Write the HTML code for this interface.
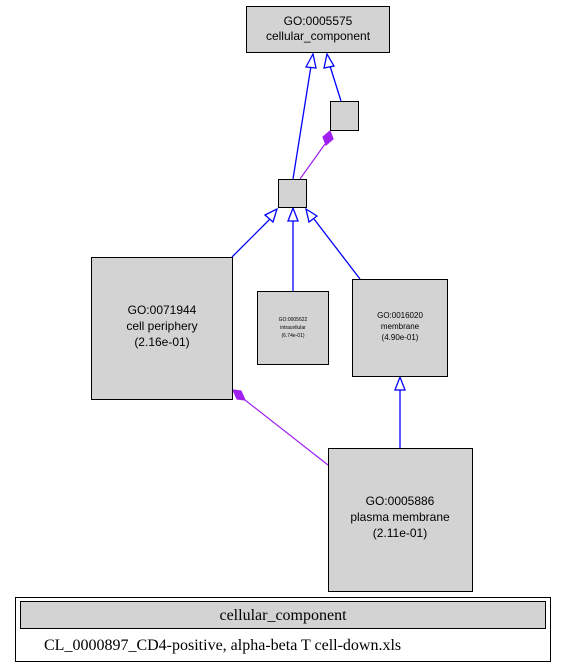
<!DOCTYPE html>
<html><head><style>body{margin:0;background:#fff}svg{display:block}</style></head><body>
<svg width="564" height="671" xmlns="http://www.w3.org/2000/svg" font-family="Liberation Sans, sans-serif">
<rect width="564" height="671" fill="#fff"/>
<g stroke="#0000ff" stroke-width="1.3" fill="none">
<line x1="293" y1="179" x2="311" y2="66"/>
<polygon points="306,67 313,54 316,68" fill="#fff"/>
<line x1="341" y1="101" x2="330" y2="66"/>
<polygon points="324,68 327,54 334,66" fill="#fff"/>
<line x1="232" y1="257" x2="270" y2="219"/>
<polygon points="265,215 277,209 273,222" fill="#fff"/>
<line x1="293" y1="291" x2="293" y2="221"/>
<polygon points="288,221 293,208 298,221" fill="#fff"/>
<line x1="360" y1="279" x2="314" y2="219"/>
<polygon points="309,222 306,209 317,216" fill="#fff"/>
<line x1="400" y1="448" x2="400" y2="390"/>
<polygon points="395,390 400,377 405,390" fill="#fff"/>
</g>
<g stroke="#a020f0" stroke-width="1.2" fill="#a020f0">
<line x1="300" y1="179" x2="325" y2="144"/>
<polygon points="330,131 333,139 326,145 323,137"/>
<line x1="328" y1="465" x2="245" y2="400"/>
<polygon points="233,390 241,391 245,400 237,399"/>
</g>
<g fill="#d3d3d3" stroke="#000" stroke-width="1">
<rect x="246.5" y="6.5" width="143" height="46"/>
<rect x="330.5" y="101.5" width="28" height="29"/>
<rect x="278.5" y="179.5" width="28" height="28"/>
<rect x="91.5" y="257.5" width="141" height="142"/>
<rect x="257.5" y="291.5" width="71" height="73"/>
<rect x="352.5" y="279.5" width="95" height="97"/>
<rect x="328.5" y="448.5" width="144" height="143"/>
</g>
<g text-anchor="middle" fill="#000">
<text x="318" y="25" font-size="12">GO:0005575</text>
<text x="318" y="40" font-size="12">cellular_component</text>
<text x="162" y="314" font-size="12">GO:0071944</text>
<text x="162" y="330" font-size="12">cell periphery</text>
<text x="162" y="346" font-size="12">(2.16e-01)</text>
<text x="293" y="321" font-size="5">GO:0005622</text>
<text x="293" y="329" font-size="5">intracellular</text>
<text x="293" y="337" font-size="5">(6.74e-01)</text>
<text x="400" y="318" font-size="8">GO:0016020</text>
<text x="400" y="329" font-size="8">membrane</text>
<text x="400" y="340" font-size="8">(4.90e-01)</text>
<text x="400" y="505" font-size="12">GO:0005886</text>
<text x="400" y="521" font-size="12">plasma membrane</text>
<text x="400" y="537" font-size="12">(2.11e-01)</text>
</g>
<rect x="15.5" y="597.5" width="535" height="64" fill="#fff" stroke="#000"/>
<rect x="20.5" y="601.5" width="525" height="27" fill="#d3d3d3" stroke="#000"/>
<text x="283" y="620" font-size="16" text-anchor="middle" font-family="Liberation Serif, serif">cellular_component</text>
<text x="44" y="650" font-size="16" font-family="Liberation Serif, serif">CL_0000897_CD4-positive, alpha-beta T cell-down.xls</text>
</svg>
</body></html>
